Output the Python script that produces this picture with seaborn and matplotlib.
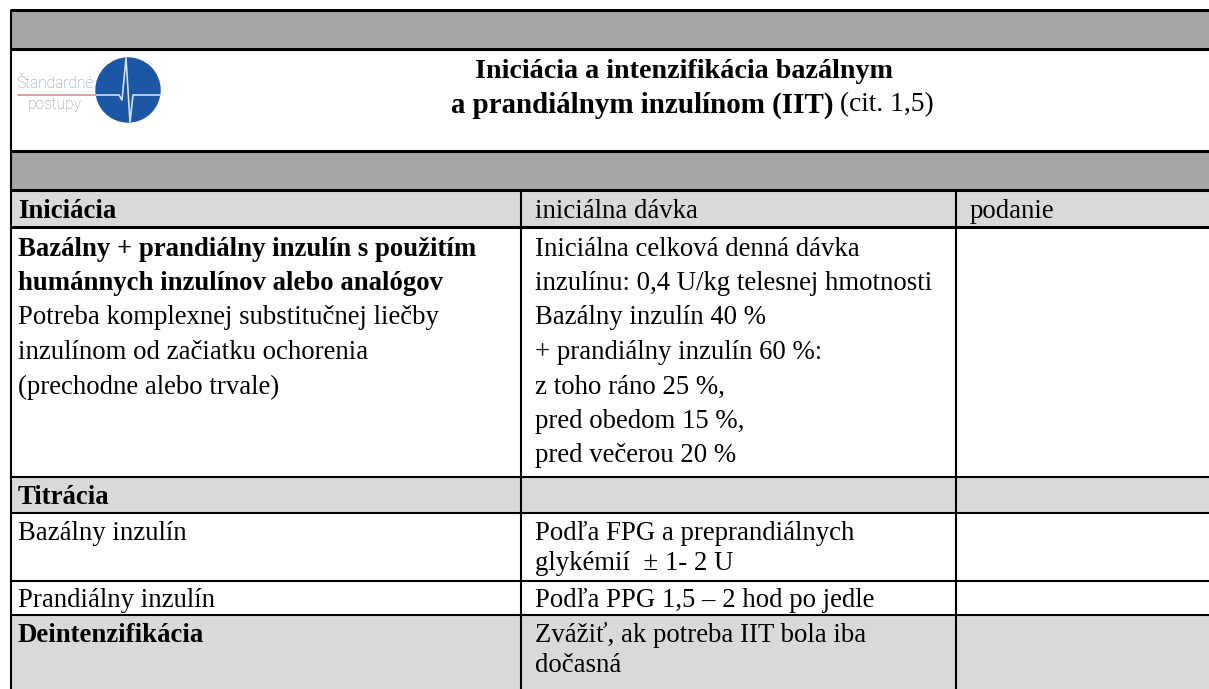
import matplotlib
matplotlib.use("Agg")
import matplotlib.pyplot as plt
import matplotlib.patches as mpatches
import seaborn as sns

# table content
title_lines = ["Iniciácia a intenzifikácia bazálnym", "a prandiálnym inzulínom (IIT)"]
title_ref = "(cit. 1,5)"
logo_words = ["Štandardné", "postupy"]

col1 = [
    ["Iniciácia"],
    ["Bazálny + prandiálny inzulín s použitím", "humánnych inzulínov alebo analógov",
     "Potreba komplexnej substitučnej liečby", "inzulínom od začiatku ochorenia",
     "(prechodne alebo trvale)"],
    ["Titrácia"],
    ["Bazálny inzulín"],
    ["Prandiálny inzulín"],
    ["Deintenzifikácia"],
]
col2 = [
    ["iniciálna dávka"],
    ["Iniciálna celková denná dávka", "inzulínu: 0,4 U/kg telesnej hmotnosti",
     "Bazálny inzulín 40 %", "+ prandiálny inzulín 60 %:", "z toho ráno 25 %,",
     "pred obedom 15 %,", "pred večerou 20 %"],
    [],
    ["Podľa FPG a preprandiálnych", "glykémií  ± 1- 2 U"],
    ["Podľa PPG 1,5 – 2 hod po jedle"],
    ["Zvážiť, ak potreba IIT bola iba", "dočasná"],
]
col3 = [["podanie"], [], [], [], [], []]
col1_bold = [1, 2, 1, 0, 0, 1]   # bold lines at start of first-column cell
shaded = [True, False, True, False, False, True]

# layout (pixels)
W, H = 1209, 689
col_edges = [10, 521, 956, 1230]
band_top, band_h, title_h = 10, 39, 102
line_sp = [31, 34.5, 31, 30, 30, 30]
row_pad = [6, 8, 5, 8, 4, 10]
first_off = [21, 22, 21, 21, 20, 21]
dark, light = "#a6a6a6", "#d9d9d9"
body_fs, title_fs = 19.3, 20.9

sns.set_theme(style="white")
plt.rcParams["font.family"] = ["Liberation Serif", "DejaVu Serif"]
plt.rcParams["text.color"] = "black"

fig = plt.figure(figsize=(W / 100, H / 100), dpi=100)
ax = fig.add_axes([0, 0, 1, 1])
ax.set_xlim(0, W)
ax.set_ylim(H, 0)
ax.axis("off")

x0, x1 = col_edges[0], col_edges[-1]

# top dark band, title cell, second dark band
y_band1 = band_top
y_title = y_band1 + band_h
y_band2 = y_title + title_h
y_table = y_band2 + band_h
for yb in [y_band1, y_band2]:
    ax.add_patch(mpatches.Rectangle((x0, yb), x1 - x0, band_h, color=dark, lw=0))

# logo
circ_c = (128, 90)
ax.add_patch(mpatches.Circle(circ_c, 32, color="#1c57a5", zorder=3))
ax.plot([18, 98], [95, 95], color="#d98b88", lw=1.2, zorder=4)
ecg_x = [97, 119, 122, 126, 130, 133, 160]
ecg_y = [95, 95, 100, 58, 122, 95, 95]
ax.plot(ecg_x, ecg_y, color="#cfe0f2", lw=1.2, zorder=4)
ax.text(55, 83, logo_words[0], fontsize=11.2, color="#8595aa", family="Roboto",
        weight="light", ha="center", va="center", zorder=5)
ax.text(55, 104, logo_words[1], fontsize=11.2, color="#8595aa", family="Roboto",
        weight="light", ha="center", va="center", zorder=5)

# title
ax.text(684, y_title + 23, title_lines[0], fontsize=title_fs * 0.97, weight="bold",
        ha="center", va="center")
t2 = ax.text(642, y_title + 56, title_lines[1], fontsize=title_fs, weight="bold",
             ha="center", va="center")
ax.annotate(" " + title_ref, xycoords=t2, xy=(1, 0.5), va="center", ha="left",
            fontsize=title_fs * 0.95)

# table rows
row_tops = [y_table]
for i in range(len(col1)):
    n = max(len(col1[i]), len(col2[i]), len(col3[i]), 1)
    row_tops.append(row_tops[-1] + n * line_sp[i] + row_pad[i])

for i in range(len(col1)):
    top, bot = row_tops[i], row_tops[i + 1]
    if shaded[i]:
        ax.add_patch(mpatches.Rectangle((x0, top), x1 - x0, H + 5 - top if i == len(col1) - 1 else bot - top,
                                        color=light, lw=0))
    for c, cells in enumerate([col1, col2, col3]):
        tx = col_edges[c] + (8 if c == 0 else 14)
        for k, line in enumerate(cells[i]):
            bold = c == 0 and k < col1_bold[i]
            ty = top + first_off[i] + line_sp[i] * k
            ax.text(tx, ty, line, fontsize=body_fs, ha="left", va="center",
                    weight="bold" if bold else "normal")

# grid lines
thick, thin = 2.2, 1.5
for y in [y_band1, y_title, y_band2, y_table, row_tops[1]]:
    ax.hlines(y, x0, x1, color="black", lw=thick, zorder=6)
for y in row_tops[2:-1]:
    ax.hlines(y, x0, x1, color="black", lw=thin, zorder=6)
ax.vlines(x0 + 1, y_band1, H + 5, color="black", lw=thin, zorder=6)
for xe in col_edges[1:3]:
    ax.vlines(xe, y_table, H + 5, color="black", lw=thin, zorder=6)

fig.savefig("out.png", dpi=100)
